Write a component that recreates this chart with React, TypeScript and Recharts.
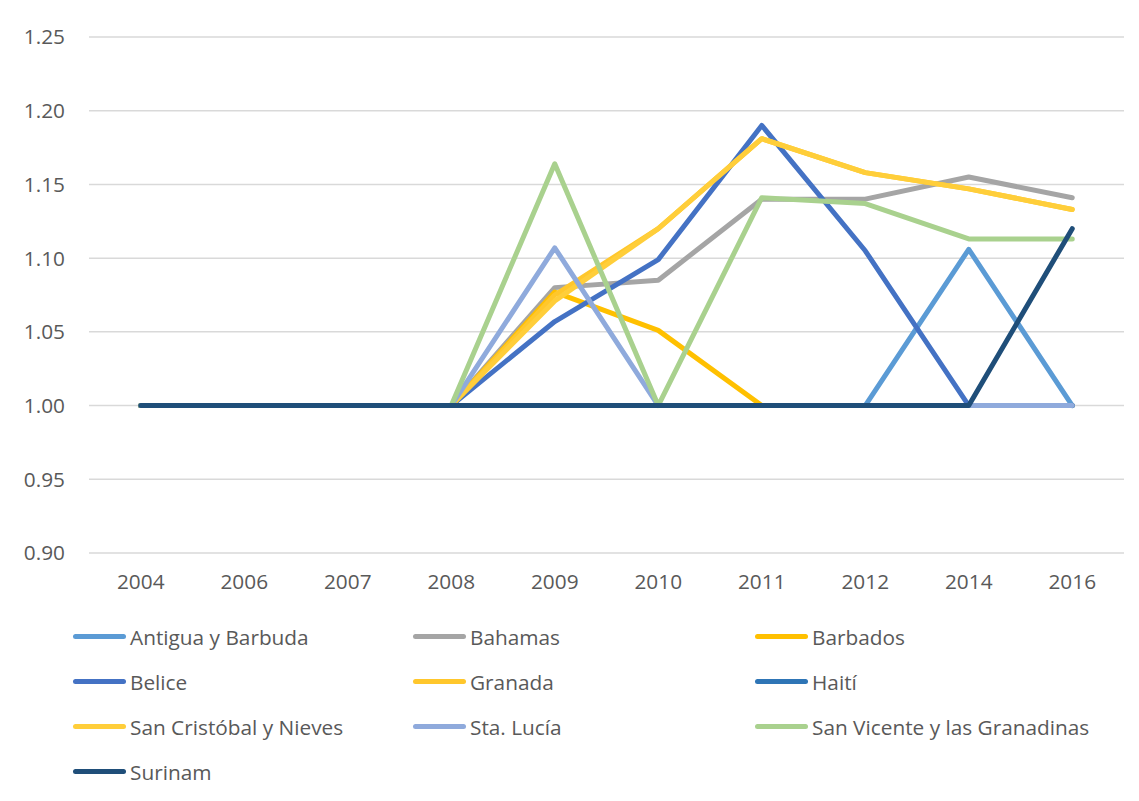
import React from "react";
import { LineChart, Line, XAxis, YAxis, CartesianGrid, Legend } from "recharts";

const years = ["2004", "2006", "2007", "2008", "2009", "2010", "2011", "2012", "2014", "2016"];

const antigua = [1, 1, 1, 1, 1, 1, 1, 1, 1.106, 1];
const bahamas = [1, 1, 1, 1, 1.08, 1.085, 1.14, 1.14, 1.155, 1.141];
const barbados = [1, 1, 1, 1, 1.077, 1.051, 1, 1, 1, 1];
const belice = [1, 1, 1, 1, 1.057, 1.099, 1.19, 1.105, 1, 1];
const granada = [1, 1, 1, 1, 1.075, 1.12, 1.181, 1.158, 1.147, 1.133];
const haiti = [1, 1, 1, 1, 1, 1, 1, 1, 1, 1];
const sanCristobal = [1, 1, 1, 1, 1.071, 1.12, 1.181, 1.158, 1.147, 1.133];
const staLucia = [1, 1, 1, 1, 1.107, 1, 1, 1, 1, 1];
const sanVicente = [1, 1, 1, 1, 1.164, 1, 1.141, 1.137, 1.113, 1.113];
const surinam = [1, 1, 1, 1, 1, 1, 1, 1, 1, 1.12];

const yTicks = [0.9, 0.95, 1.0, 1.05, 1.1, 1.15, 1.2, 1.25];

const series = [
  { key: "Antigua y Barbuda", values: antigua, color: "#5B9BD5" },
  { key: "Bahamas", values: bahamas, color: "#A5A5A5" },
  { key: "Barbados", values: barbados, color: "#FFC000" },
  { key: "Belice", values: belice, color: "#4472C4" },
  { key: "Granada", values: granada, color: "#FFC72C" },
  { key: "Haití", values: haiti, color: "#2E75B6" },
  { key: "San Cristóbal y Nieves", values: sanCristobal, color: "#FFCE3A" },
  { key: "Sta. Lucía", values: staLucia, color: "#8FAADC" },
  { key: "San Vicente y las Granadinas", values: sanVicente, color: "#A9D18E" },
  { key: "Surinam", values: surinam, color: "#1F4E79" },
];

const data = years.map((year, i) => {
  const row: Record<string, string | number> = { year };
  series.forEach((s) => {
    row[s.key] = s.values[i];
  });
  return row;
});

const FONT = "'Open Sans', sans-serif";
const TEXT = "#595959";
const FS = 20.8;

function CustomLegend() {
  return (
    <div
      style={{
        display: "grid",
        gridTemplateColumns: "340px 342px 340px",
        paddingLeft: 65,
        height: 180,
        fontFamily: FONT,
        fontSize: FS,
        color: TEXT,
      }}
    >
      {series.map((s) => (
        <div key={s.key} style={{ height: 45, display: "flex", alignItems: "center" }}>
          <span
            style={{
              display: "inline-block",
              width: 53,
              height: 5,
              borderRadius: 3,
              background: s.color,
              marginRight: 4,
            }}
          />
          <span style={{ whiteSpace: "nowrap" }}>{s.key}</span>
        </div>
      ))}
    </div>
  );
}

export default function App() {
  return (
    <div
      style={{
        width: 1130,
        height: 800,
        borderLeft: "1px solid #D9D9D9",
        borderTop: "1px solid #D9D9D9",
        borderRight: "1px solid #D9D9D9",
        marginLeft: -1,
        marginTop: -1,
        background: "#fff",
      }}
    >
      <LineChart width={1130} height={793} data={data} margin={{ top: 29, right: 14, bottom: 7, left: 0 }}>
        <CartesianGrid vertical={false} stroke="#D9D9D9" strokeWidth={1.5} />
        <XAxis
          dataKey="year"
          axisLine={false}
          tickLine={false}
          tickMargin={15}
          height={61}
          padding={{ left: 51.75, right: 51.75 }}
          tick={{ fill: TEXT, fontSize: FS, fontFamily: FONT }}
          interval={0}
        />
        <YAxis
          domain={[0.9, 1.25]}
          ticks={yTicks}
          axisLine={false}
          tickLine={false}
          tickMargin={18}
          width={81}
          tickFormatter={(v: number) => v.toFixed(2)}
          tick={{ fill: TEXT, fontSize: FS, fontFamily: FONT }}
        />
        <Legend verticalAlign="bottom" content={<CustomLegend />} wrapperStyle={{ left: 0, width: 1130 }} />
        {series.map((s) => (
          <Line
            key={s.key}
            type="linear"
            dataKey={s.key}
            stroke={s.color}
            strokeWidth={5}
            strokeLinecap="round"
            strokeLinejoin="round"
            dot={false}
            activeDot={false}
            isAnimationActive={false}
          />
        ))}
      </LineChart>
    </div>
  );
}
